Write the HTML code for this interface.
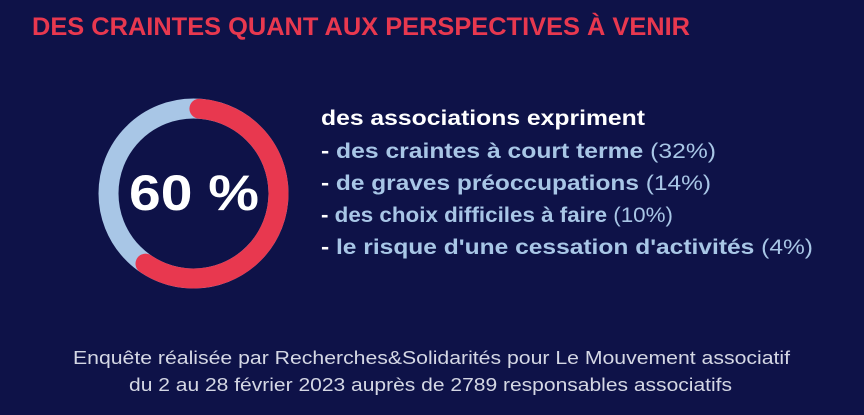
<!DOCTYPE html>
<html><head><meta charset="utf-8"><style>
html,body{margin:0;padding:0;background:#0e1248;}
svg{display:block}
</style></head><body>
<svg width="864" height="415" viewBox="0 0 864 415" xmlns="http://www.w3.org/2000/svg" font-family="'Liberation Sans', sans-serif">
<rect width="864" height="415" fill="#0e1248"/>
<text x="32" y="35" font-size="25" font-weight="bold" fill="#e8384f" textLength="658" lengthAdjust="spacingAndGlyphs">DES CRAINTES QUANT AUX PERSPECTIVES À VENIR</text>
<circle cx="193.5" cy="193.5" r="85" fill="none" stroke="#a8c6e6" stroke-width="20"/>
<circle cx="193.5" cy="193.5" r="85" fill="none" stroke="#e8384f" stroke-width="20" stroke-linecap="round" stroke-dasharray="312 600" transform="rotate(-86 193.5 193.5)"/>
<text x="129" y="210" font-size="50" font-weight="bold" fill="#ffffff" textLength="130" lengthAdjust="spacingAndGlyphs">60 %</text>
<text x="321" y="125" font-size="21" font-weight="bold" fill="#ffffff" textLength="324" lengthAdjust="spacingAndGlyphs">des associations expriment</text>
<text x="321" y="158" font-size="21" font-weight="bold" fill="#a8c6e6" textLength="395" lengthAdjust="spacingAndGlyphs"><tspan fill="#fff">- </tspan>des craintes à court terme <tspan font-weight="normal">(32%)</tspan></text>
<text x="321" y="190" font-size="21" font-weight="bold" fill="#a8c6e6" textLength="390" lengthAdjust="spacingAndGlyphs"><tspan fill="#fff">- </tspan>de graves préoccupations <tspan font-weight="normal">(14%)</tspan></text>
<text x="321" y="222" font-size="21" font-weight="bold" fill="#a8c6e6" textLength="352" lengthAdjust="spacingAndGlyphs"><tspan fill="#fff">- </tspan>des choix difficiles à faire <tspan font-weight="normal">(10%)</tspan></text>
<text x="321" y="254" font-size="21" font-weight="bold" fill="#a8c6e6" textLength="492" lengthAdjust="spacingAndGlyphs"><tspan fill="#fff">- </tspan>le risque d'une cessation d'activités <tspan font-weight="normal">(4%)</tspan></text>
<text x="73" y="364" font-size="18" fill="#d4d7e4" textLength="717" lengthAdjust="spacingAndGlyphs">Enquête réalisée par Recherches&amp;Solidarités pour Le Mouvement associatif</text>
<text x="129" y="391" font-size="18" fill="#d4d7e4" textLength="603" lengthAdjust="spacingAndGlyphs">du 2 au 28 février 2023 auprès de 2789 responsables associatifs</text>
</svg>
</body></html>
